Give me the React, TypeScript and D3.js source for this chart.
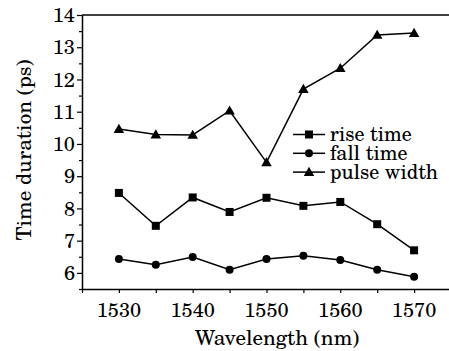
import { useRef, useEffect } from 'react';
import * as d3 from 'd3';

const wavelengths = [1530, 1535, 1540, 1545, 1550, 1555, 1560, 1565, 1570];
const riseTime = [8.48, 7.46, 8.34, 7.89, 8.33, 8.08, 8.2, 7.51, 6.7];
const fallTime = [6.43, 6.25, 6.49, 6.1, 6.43, 6.53, 6.4, 6.1, 5.88];
const pulseWidth = [10.46, 10.29, 10.28, 11.03, 9.43, 11.7, 12.35, 13.38, 13.44];
const seriesNames = ['rise time', 'fall time', 'pulse width'];
const xTicks = [1530, 1540, 1550, 1560, 1570];
const yTicks = [6, 7, 8, 9, 10, 11, 12, 13, 14];

const FONT = 'TeX Gyre Schola, DejaVu Serif, serif';

export default function App() {
  const svgRef = useRef<SVGSVGElement>(null);

  useEffect(() => {
    const w = 449;
    const h = 351;
    const m = { t: 15, r: -2, b: 62, l: 82 };

    const svg = d3.select(svgRef.current)
      .attr('width', w)
      .attr('height', h);
    svg.selectAll('*').remove();

    const x = d3.scaleLinear().domain([1525, 1575]).range([m.l, w - m.r]);
    const y = d3.scaleLinear().domain([5.5, 14]).range([h - m.b, m.t]);

    // top border
    svg.append('line')
      .attr('x1', m.l).attr('x2', w - m.r)
      .attr('y1', m.t).attr('y2', m.t)
      .attr('stroke', '#000').attr('stroke-width', 1.5);

    // x axis: small ticks every 5 nm, labels every 10
    const xa = svg.append('g').attr('transform', `translate(0,${h - m.b})`);
    xa.call(d3.axisBottom(x).tickValues(d3.range(1525, 1576, 5)).tickSize(4).tickFormat(() => '').tickSizeOuter(0));
    xa.select('.domain').attr('stroke-width', 1.5);
    xa.selectAll('.tick line').attr('stroke-width', 1.2);
    svg.append('g')
      .selectAll('text')
      .data(xTicks)
      .join('text')
        .attr('x', d => x(d))
        .attr('y', h - m.b + 28)
        .attr('text-anchor', 'middle')
        .attr('font-family', FONT)
        .attr('font-size', 20)
        .attr('fill', '#000')
        .text(d => d);

    // y axis: major ticks with labels, minor every 0.5
    const ya = svg.append('g').attr('transform', `translate(${m.l},0)`);
    ya.call(d3.axisLeft(y).tickValues(d3.range(5.5, 14.01, 0.5)).tickSize(3).tickFormat(() => '').tickSizeOuter(0));
    ya.select('.domain').attr('stroke-width', 1.5);
    ya.selectAll('.tick line')
      .attr('stroke-width', 1.2)
      .attr('x2', (d: any) => (Number.isInteger(d) ? -5 : -3));
    svg.append('g')
      .selectAll('text')
      .data(yTicks)
      .join('text')
        .attr('x', m.l - 7)
        .attr('y', d => y(d))
        .attr('dy', '0.36em')
        .attr('text-anchor', 'end')
        .attr('font-family', FONT)
        .attr('font-size', 20)
        .attr('fill', '#000')
        .text(d => d);

    // axis titles
    svg.append('text')
      .attr('x', 277)
      .attr('y', h - 6)
      .attr('text-anchor', 'middle')
      .attr('font-family', FONT)
      .attr('font-size', 21)
      .text('Wavelength (nm)');

    svg.append('text')
      .attr('transform', 'translate(31,150) rotate(-90)')
      .attr('text-anchor', 'middle')
      .attr('font-family', FONT)
      .attr('font-size', 21)
      .text('Time duration (ps)');

    const series = [riseTime, fallTime, pulseWidth];
    const line = d3.line<number>()
      .x((_, i) => x(wavelengths[i]))
      .y(d => y(d));

    const marker = (g: any, k: number, cx: number, cy: number) => {
      if (k === 0) {
        g.append('rect')
          .attr('x', cx - 4).attr('y', cy - 4)
          .attr('width', 8).attr('height', 8)
          .attr('fill', '#000');
      } else if (k === 1) {
        g.append('circle').attr('cx', cx).attr('cy', cy).attr('r', 4).attr('fill', '#000');
      } else {
        g.append('path')
          .attr('d', d3.symbol(d3.symbolTriangle, 48)())
          .attr('transform', `translate(${cx},${cy + 0.8})`)
          .attr('fill', '#000');
      }
    };

    series.forEach((vals, k) => {
      svg.append('path')
        .datum(vals)
        .attr('fill', 'none')
        .attr('stroke', '#000')
        .attr('stroke-width', 1.5)
        .attr('d', line);
      const g = svg.append('g');
      vals.forEach((v, i) => marker(g, k, x(wavelengths[i]), y(v)));
    });

    // legend
    const lg = svg.append('g').attr('transform', 'translate(293,134.5)');
    seriesNames.forEach((name, k) => {
      const row = lg.append('g').attr('transform', `translate(0,${k * 18.8})`);
      row.append('line')
        .attr('x1', 0).attr('x2', 32)
        .attr('stroke', '#000').attr('stroke-width', 1.5);
      marker(row, k, 16, 0);
      row.append('text')
        .attr('x', 37)
        .attr('dy', '0.32em')
        .attr('font-family', FONT)
        .attr('font-size', 20)
        .text(name);
    });
  }, []);

  return (
    <div style={{ position: 'absolute', left: 0, top: 0 }}>
      <svg ref={svgRef} style={{ display: 'block', background: '#fff' }}></svg>
    </div>
  );
}
